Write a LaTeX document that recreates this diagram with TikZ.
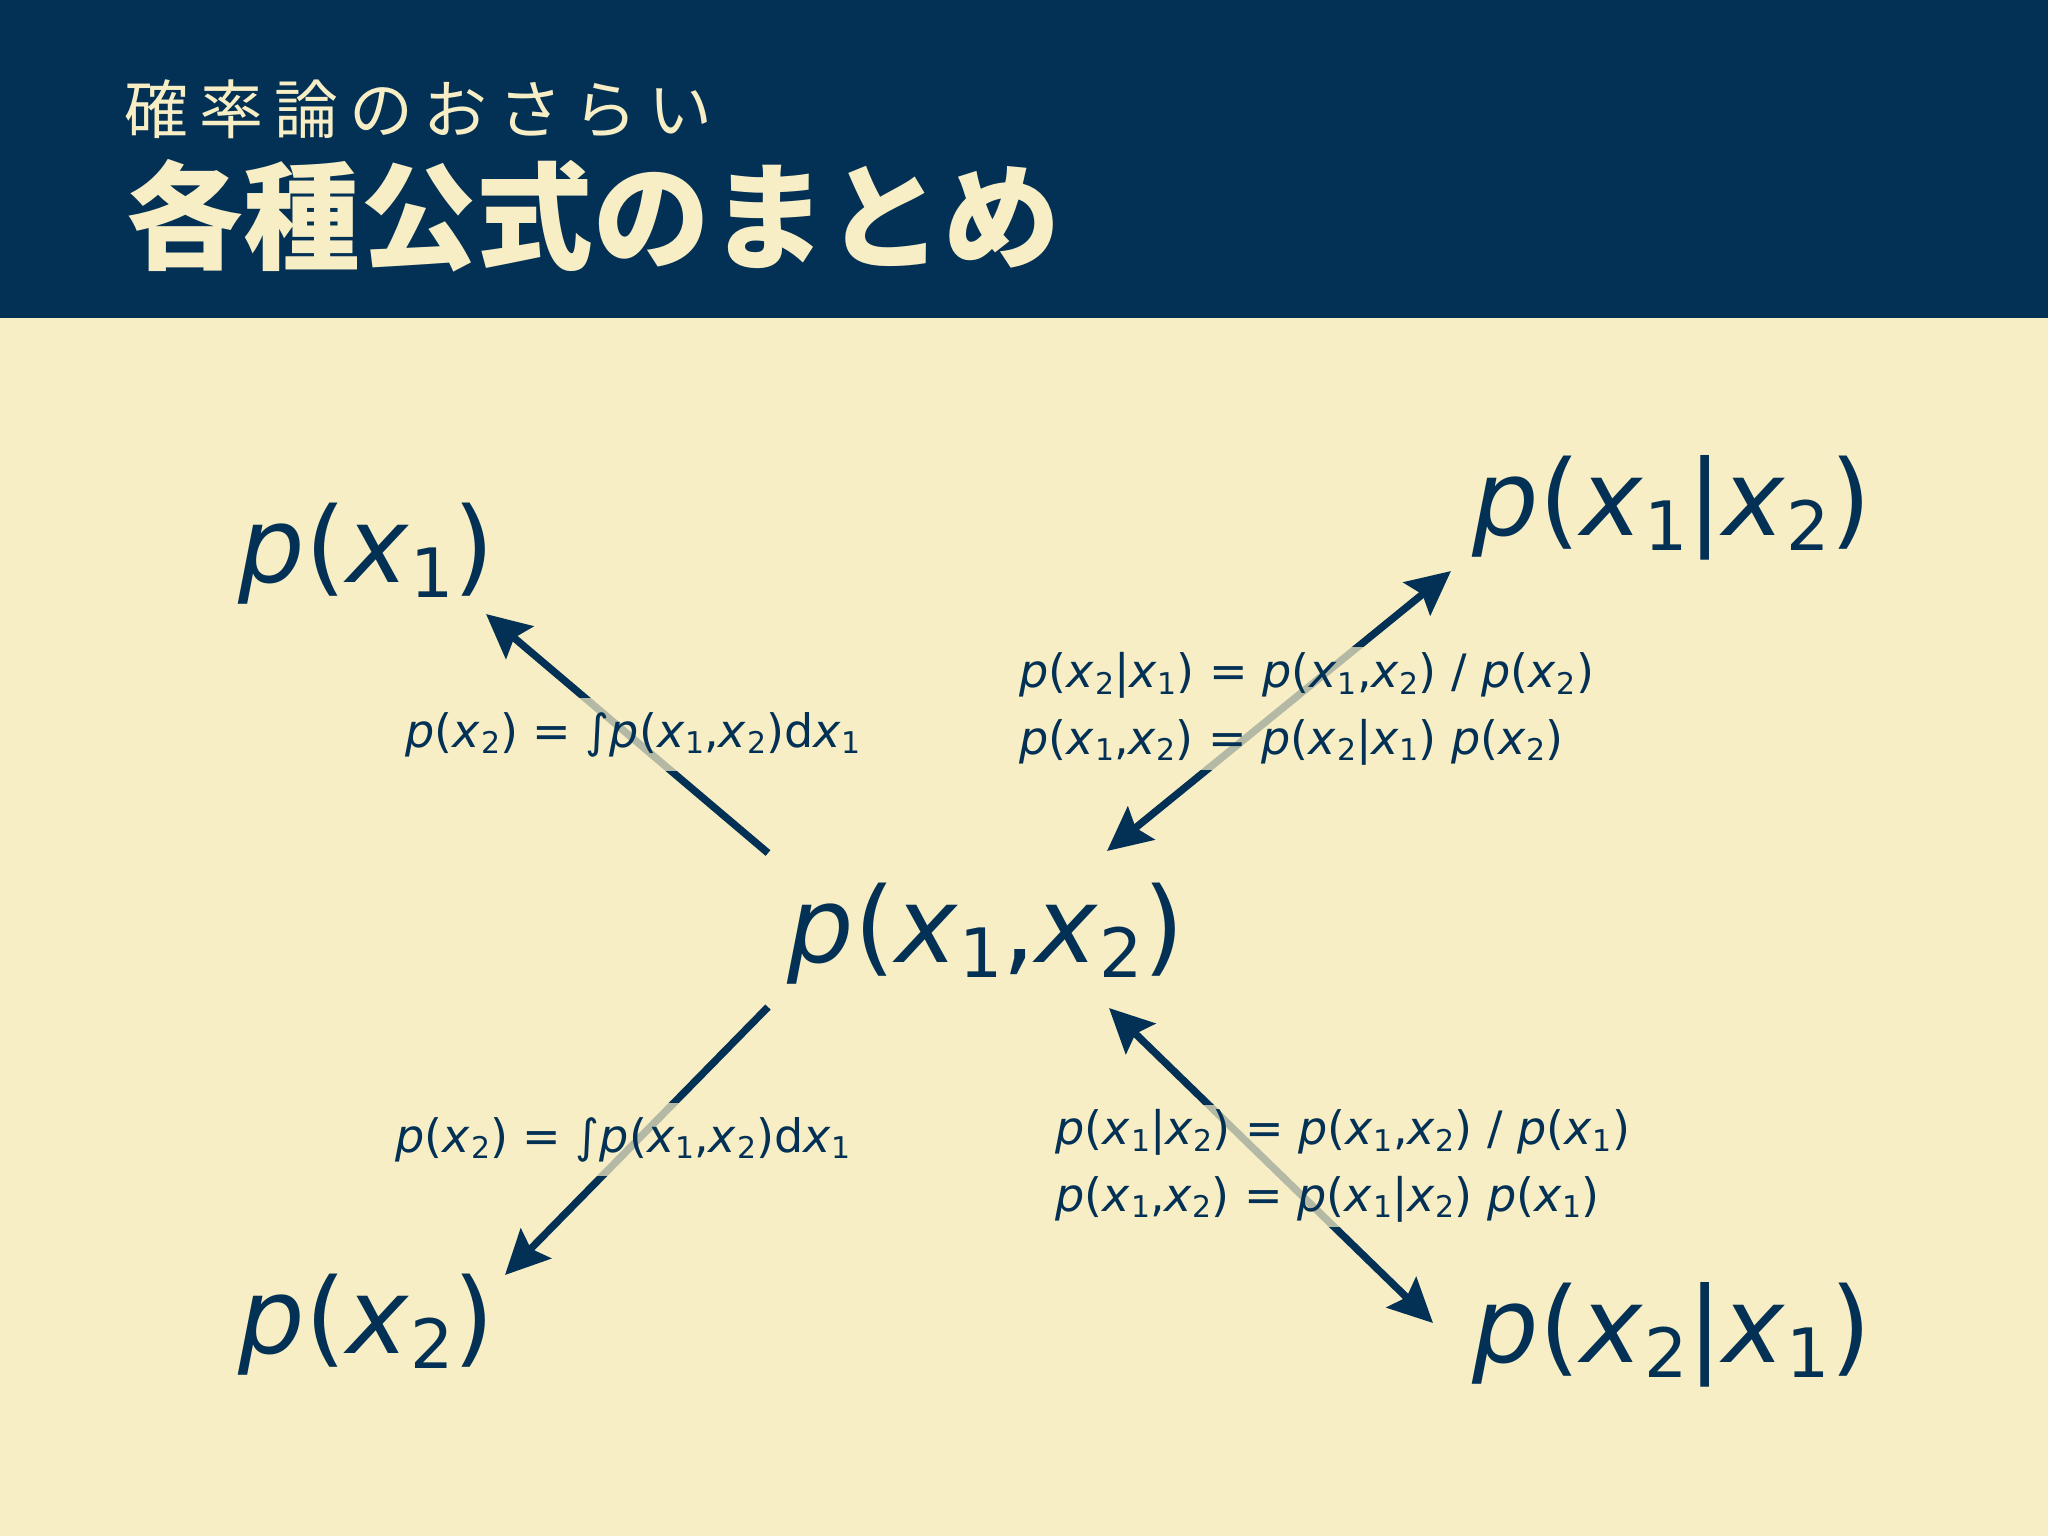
\documentclass[tikz,border=0pt]{standalone}
\usepackage{fontspec}
\setmainfont{DejaVu Sans}
\newfontfamily\cjk{Noto Sans CJK JP}
\usetikzlibrary{arrows.meta}
\definecolor{navy}{RGB}{3,49,85}
\definecolor{cream}{RGB}{247,238,197}
\newcommand\sbs[1]{\kern0.02em\raisebox{-0.15em}{\scalebox{0.65}{#1}}}
\newcommand\X[1]{{\itshape x}\sbs{#1}}
\newcommand\Pf[1]{{\itshape p}(#1)}
\tikzset{
  big/.style={font=\fontsize{29.8pt}{35pt}\selectfont, text=navy, inner sep=0pt, anchor=base west},
  lbl/.style={font=\fontsize{13.1pt}{18.8pt}\selectfont, text=navy, fill=cream, fill opacity=0.72, text opacity=1, inner xsep=0pt, inner ysep=4pt, anchor=base west, align=left},
  lbltwo/.style={lbl, inner ysep=1.5pt},
  conn/.style={draw=navy, line width=2.1pt},
  tip/.tip={Stealth[length=12.5pt,width=12pt,inset=2pt]}
}
\begin{document}
\begin{tikzpicture}[x=0.1mm,y=-0.1mm]
\useasboundingbox (0,0) rectangle (2048,1536);
\fill[cream] (0,0) rectangle (2048,1536);
\fill[navy] (0,0) rectangle (2048,318);
\node[anchor=west, inner sep=0pt, text=cream, font=\cjk\fontsize{18.2pt}{22pt}\selectfont\addfontfeatures{LetterSpace=17}] (sub) at (124,109) {確率論のおさらい};
\node[anchor=west, inner sep=0pt, text=cream, font=\cjk\bfseries\fontsize{33.2pt}{40pt}\selectfont] (title) at (126,216) {各種公式のまとめ};
% main nodes
\node[big] (n1) at (238,582) {\Pf{\X1}};
\node[big] (n12) at (1472,535) {\Pf{\X1|\X2}};
\node[big] (nj) at (787,962) {\Pf{\X1,\X2}};
\node[big] (n2) at (238,1353) {\Pf{\X2}};
\node[big] (n21) at (1472,1362) {\Pf{\X2|\X1}};
% connector ends
\coordinate (a1s) at (768,853); \coordinate (a1e) at (486,614);
\coordinate (a2s) at (768,1007); \coordinate (a2e) at (505,1275);
\coordinate (a3s) at (1107,851); \coordinate (a3e) at (1451,571);
\coordinate (a4s) at (1109,1008); \coordinate (a4e) at (1433,1323);
\draw[conn,-tip] (a1s) -- (a1e);
\draw[conn,-tip] (a2s) -- (a2e);
\draw[conn,tip-tip] (a3s) -- (a3e);
\draw[conn,tip-tip] (a4s) -- (a4e);
% labels
\node[lbl] (l1) at (405,747) {\Pf{\X2} = ∫\Pf{\X1,\X2}d\X1};
\node[lbl] (l3) at (395,1152) {\Pf{\X2} = ∫\Pf{\X1,\X2}d\X1};
\node[lbltwo] (l2) at (1019,754) {\Pf{\X2|\X1} = \Pf{\X1,\X2} / \Pf{\X2}\\ \Pf{\X1,\X2} = \Pf{\X2|\X1} \Pf{\X2}};
\node[lbltwo] (l4) at (1055,1211) {\Pf{\X1|\X2} = \Pf{\X1,\X2} / \Pf{\X1}\\ \Pf{\X1,\X2} = \Pf{\X1|\X2} \Pf{\X1}};
\end{tikzpicture}
\end{document}
